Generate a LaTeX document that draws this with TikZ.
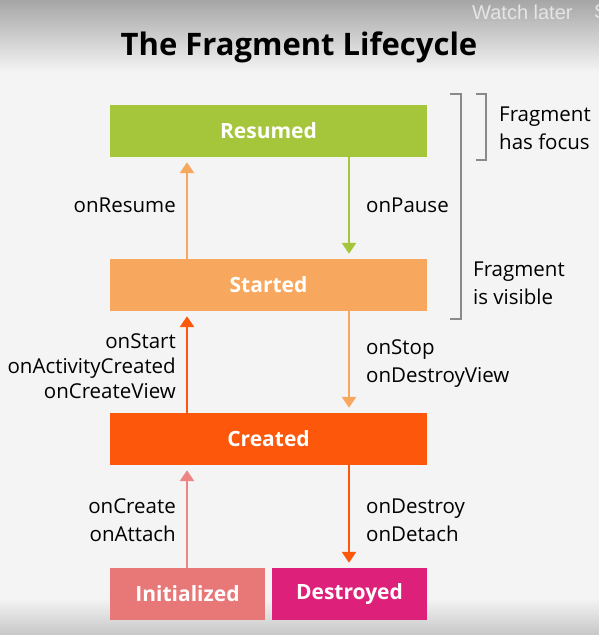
\documentclass[tikz,border=0pt]{standalone}
\usepackage{fontspec}
\setmainfont{Open Sans}
\newfontfamily\wlfont{Liberation Sans}
\usetikzlibrary{arrows.meta,calc}
\definecolor{bg}{HTML}{F4F4F4}
\definecolor{cresumed}{HTML}{A5C63B}
\definecolor{cstarted}{HTML}{F8A85E}
\definecolor{ccreated}{HTML}{FC570A}
\definecolor{cinit}{HTML}{E87878}
\definecolor{cdestroyed}{HTML}{DD217A}
\definecolor{cinitarrow}{HTML}{EE8585}
\definecolor{cbracket}{HTML}{8A8A8A}
\begin{document}
\begin{tikzpicture}[x=1pt,y=-1pt,
  statebox/.style={rectangle, minimum height=52pt, inner sep=0pt, text=white,
    font=\fontsize{21}{25}\selectfont\bfseries},
  wide/.style={statebox, minimum width=317pt},
  narrow/.style={statebox, minimum width=155pt},
  arr/.style={line width=2.6pt, -{Triangle[width=14pt,length=11pt]}},
  lbl/.style={font=\fontsize{20.5}{28}\selectfont, text=black, inner sep=0pt},
  brk/.style={draw=cbracket, line width=1.8pt}]
\useasboundingbox (0,0) rectangle (599,635);
\fill[bg] (0,0) rectangle (599,635);
\shade[top color=black!35, bottom color=bg] (0,0) rectangle (599,72);
\shade[top color=bg, bottom color=black!22] (0,598) rectangle (599,635);

\node[font=\wlfont\fontsize{20}{22}\selectfont, text=black!10, anchor=west, inner sep=0pt] (wl) at (472,12) {Watch later};
\node[font=\wlfont\fontsize{20}{22}\selectfont, text=black!10, anchor=west, inner sep=0pt] (ws) at (594,12) {S};

\node[font=\fontsize{31}{36}\selectfont\bfseries, inner sep=0pt] (title) at (299,47) {The Fragment Lifecycle};

\node[wide, fill=cresumed] (resumed) at (268.5,131) {Resumed};
\node[wide, fill=cstarted] (started) at (268.5,285) {Started};
\node[wide, fill=ccreated] (created) at (268.5,439) {Created};
\node[narrow, fill=cinit] (init) at (187.5,594) {Initialized};
\node[narrow, fill=cdestroyed] (destroyed) at (349.5,594) {Destroyed};

\coordinate (xL) at (187,0);
\coordinate (xR) at (349,0);

\draw[arr, cstarted] (started.north -| xL) -- ([yshift=-5pt]resumed.south -| xL);
\draw[arr, cresumed] (resumed.south -| xR) -- ([yshift=5pt]started.north -| xR);
\draw[arr, ccreated] (created.north -| xL) -- ([yshift=-5pt]started.south -| xL);
\draw[arr, cstarted] (started.south -| xR) -- ([yshift=5pt]created.north -| xR);
\draw[arr, cinitarrow] (init.north -| xL) -- ([yshift=-5pt]created.south -| xL);
\draw[arr, ccreated] (created.south -| xR) -- ([yshift=5pt]destroyed.north -| xR);

\node[lbl, anchor=east] (lresume) at (176,205) {onResume};
\node[lbl, anchor=west] (lpause) at (366,205) {onPause};
\node[lbl, anchor=east, align=right, font=\fontsize{20.5}{25}\selectfont] (lstart) at (176,366) {onStart\\onActivityCreated\\onCreateView};
\node[lbl, anchor=west, align=left] (lstop) at (366,364) {onStop\\onDestroyView};
\node[lbl, anchor=east, align=right] (lcreate) at (176,520) {onCreate\\onAttach};
\node[lbl, anchor=west, align=left] (ldestroy) at (366,520) {onDestroy\\onDetach};

\draw[brk] (450,94) -- (461,94) -- (461,319) -- (450,319);
\draw[brk] (476,94) -- (486,94) -- (486,160) -- (476,160);
\node[lbl, anchor=west, align=left] (lfocus) at (499,128) {Fragment\\has focus};
\node[lbl, anchor=west, align=left] (lvisible) at (473,283) {Fragment\\is visible};
\end{tikzpicture}
\end{document}
